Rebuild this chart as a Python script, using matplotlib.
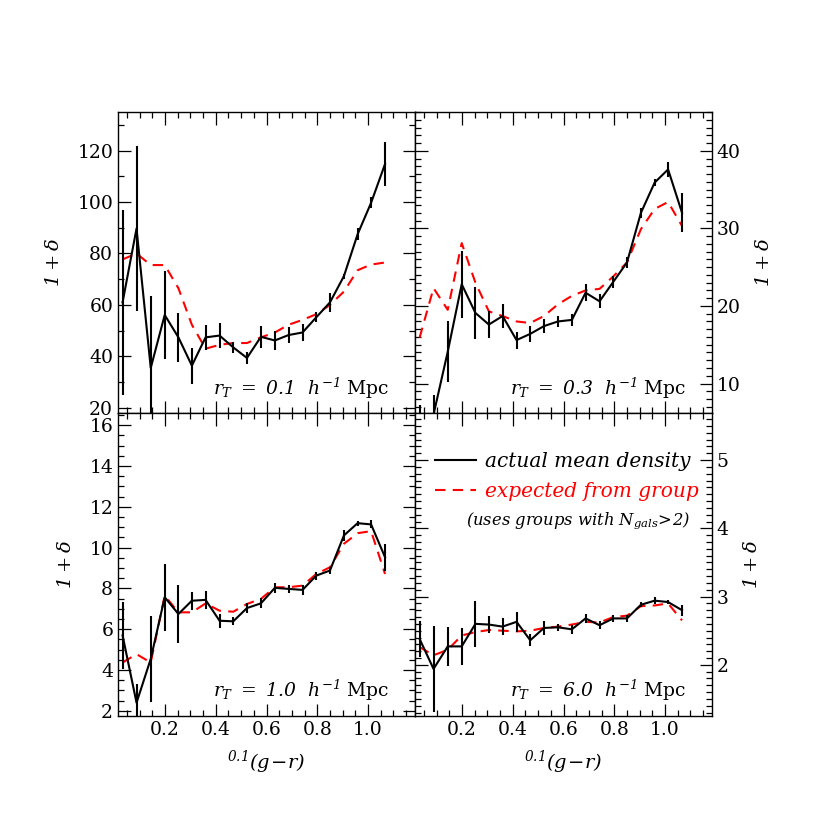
import numpy as np
import matplotlib.pyplot as plt
from matplotlib.ticker import MultipleLocator

plt.rcParams['font.family'] = 'DejaVu Serif'
# math text is italic throughout (digits too); \mathsf gives upright text
plt.rcParams['mathtext.fontset'] = 'custom'
plt.rcParams['mathtext.rm'] = 'DejaVu Serif:italic'
plt.rcParams['mathtext.it'] = 'DejaVu Serif:italic'
plt.rcParams['mathtext.sf'] = 'DejaVu Serif'
plt.rcParams['mathtext.bf'] = 'DejaVu Serif:bold'

# colour bins, ^{0.1}(g-r)
gr = [0.033, 0.088, 0.144, 0.199, 0.253, 0.306, 0.360, 0.415, 0.469, 0.523,
      0.578, 0.633, 0.687, 0.742, 0.796, 0.850, 0.905, 0.959, 1.012, 1.067]

# r_T = 0.1
act_01 = [61, 89.7, 35.5, 56.1, 47.4, 36.4, 47.4, 48.1, 43.5, 39.4,
          47.6, 46.2, 48.3, 49.3, 55.2, 61, 71.2, 87.5, 99.7, 114.8]
err_01 = [36, 32, 28, 17, 9.5, 7, 4.8, 4.7, 2, 2.2,
          4.4, 3.8, 3.2, 3.2, 2, 3.6, 1, 2.4, 2.2, 8.5]
exp_01 = [77.7, 80, 75.5, 75.5, 66.5, 52.3, 43, 44.5, 45.2, 45.2,
          47.4, 49.3, 52.3, 54.2, 56.4, 60, 65.2, 73.5, 75.7, 76.5]

# r_T = 0.3
act_03 = [5.0, 6.0, 14.1, 22.8, 19.1, 17.6, 18.7, 15.6, 16.4, 17.4,
          18.0, 18.2, 21.7, 20.6, 23.1, 25.6, 32.0, 35.9, 37.6, 32.0]
err_03 = [2.2, 2.5, 3.9, 4.3, 3.4, 1.7, 1.6, 1.1, 1.0, 0.9,
          0.7, 0.8, 1.1, 0.9, 0.8, 0.7, 0.6, 0.4, 1.0, 2.5]
exp_03 = [15.9, 22.3, 19.5, 28.1, 23.0, 19.3, 18.7, 18.0, 17.8, 18.7,
          20.2, 21.3, 22.0, 22.2, 23.8, 25.6, 29.9, 32.5, 33.4, 30.3]

# r_T = 1.0
act_10 = [5.7, 2.4, 4.55, 7.57, 6.75, 7.4, 7.44, 6.42, 6.39, 7.04,
          7.27, 8.03, 7.98, 7.93, 8.63, 8.88, 10.6, 11.2, 11.14, 9.53]
err_10 = [1.65, 0.9, 2.1, 1.65, 1.4, 0.45, 0.45, 0.35, 0.2, 0.25,
          0.25, 0.25, 0.18, 0.25, 0.2, 0.15, 0.25, 0.12, 0.2, 0.65]
exp_10 = [4.37, 4.78, 4.37, 7.65, 6.83, 6.83, 7.27, 6.91, 6.86, 7.24,
          7.49, 8.06, 8.06, 8.14, 8.71, 9.04, 10.19, 10.71, 10.81, 8.71]

# r_T = 6.0
act_60 = [2.38, 1.94, 2.27, 2.27, 2.60, 2.59, 2.56, 2.63, 2.36, 2.54,
          2.55, 2.52, 2.68, 2.58, 2.68, 2.68, 2.88, 2.94, 2.92, 2.80]
err_60 = [0.26, 0.63, 0.28, 0.27, 0.34, 0.13, 0.13, 0.15, 0.09, 0.1,
          0.05, 0.065, 0.065, 0.06, 0.05, 0.05, 0.035, 0.05, 0.035, 0.08]
exp_60 = [2.26, 2.14, 2.22, 2.43, 2.48, 2.51, 2.50, 2.49, 2.50, 2.54,
          2.56, 2.59, 2.63, 2.62, 2.70, 2.72, 2.86, 2.87, 2.90, 2.65]

panels = [
    (act_01, err_01, exp_01, '0.1', (18, 135), 20, 10),
    (act_03, err_03, exp_03, '0.3', (6.2, 45), 10, 1),
    (act_10, err_10, exp_10, '1.0', (1.75, 16.6), 2, 0.5),
    (act_60, err_60, exp_60, '6.0', (1.25, 5.69), 1, 0.1),
]

fig = plt.figure(figsize=(8.3, 8.3), dpi=100)
x0, w = 118 / 830, 297 / 830
rects = [
    [x0, 1 - 413 / 830, w, 301 / 830],
    [x0 + w, 1 - 413 / 830, w, 301 / 830],
    [x0, 1 - 716 / 830, w, 303 / 830],
    [x0 + w, 1 - 716 / 830, w, 303 / 830],
]

ylab = r'$1+\delta$'

for i, (act, err, exp, rt, ylim, major, minor) in enumerate(panels):
    ax = fig.add_axes(rects[i])
    ax.plot(gr, exp, color='red', ls=(0, (5, 3.5)), lw=1.5, zorder=2)
    ax.errorbar(gr, act, yerr=err, color='black', lw=1.5, elinewidth=1.5,
                capsize=0, zorder=3)
    ax.set_xlim(0.015, 1.185)
    ax.set_ylim(*ylim)
    ax.xaxis.set_major_locator(MultipleLocator(0.2))
    ax.xaxis.set_minor_locator(MultipleLocator(0.05))
    ax.yaxis.set_major_locator(MultipleLocator(major))
    ax.yaxis.set_minor_locator(MultipleLocator(minor))
    ax.tick_params(which='both', direction='in', top=True, bottom=True,
                   left=True, right=True, labelsize=13.5, width=0.9)
    ax.tick_params(which='major', length=9)
    ax.tick_params(which='minor', length=4.5)
    for s in ax.spines.values():
        s.set_linewidth(1.0)

    if i < 2:
        ax.tick_params(labelbottom=False)
    else:
        ax.set_xticks([0.2, 0.4, 0.6, 0.8, 1.0])
        ax.set_xticklabels(['0.2', '0.4', '0.6', '0.8', '1.0'])
        ax.set_xlabel(r'$^{0.1}(g\!-\!r)$', fontsize=14, labelpad=7)
    if i % 2 == 1:
        ax.tick_params(labelleft=False, labelright=True)
        ax.yaxis.set_label_position('right')
    ax.set_ylabel(ylab, fontsize=14, labelpad=10)
    # drop labels that would fall outside the axis range
    yt = [t for t in ax.get_yticks() if ylim[0] <= t <= ylim[1]]
    ax.set_yticks(yt)
    ax.set_yticklabels(['%g' % t for t in yt])

    ax.text(0.915, 0.083,
            r'$r_{T}\ =\ ' + rt + r'\ \ h^{-1}\ \mathsf{Mpc}$',
            transform=ax.transAxes, ha='right', va='center', fontsize=13.5)

    if i == 3:
        ax.plot([], [], color='black', lw=1.5, label='actual mean density')
        ax.plot([], [], color='red', ls=(0, (5, 3.5)), lw=1.5,
                label='expected from group')
        ax.legend(loc='upper right', bbox_to_anchor=(0.995, 0.91),
                  frameon=False, handlelength=2.0, handletextpad=0.45,
                  labelspacing=0.55, borderaxespad=0.2,
                  prop={'family': 'DejaVu Serif', 'style': 'italic',
                        'size': 14.5},
                  labelcolor=['black', 'red'])
        ax.text(0.926, 0.645,
                r'$(uses\ groups\ with\ N_{gals}\!>\!2)$',
                transform=ax.transAxes, ha='right', va='center', fontsize=11.8)

fig.savefig('out.png', dpi=100)
